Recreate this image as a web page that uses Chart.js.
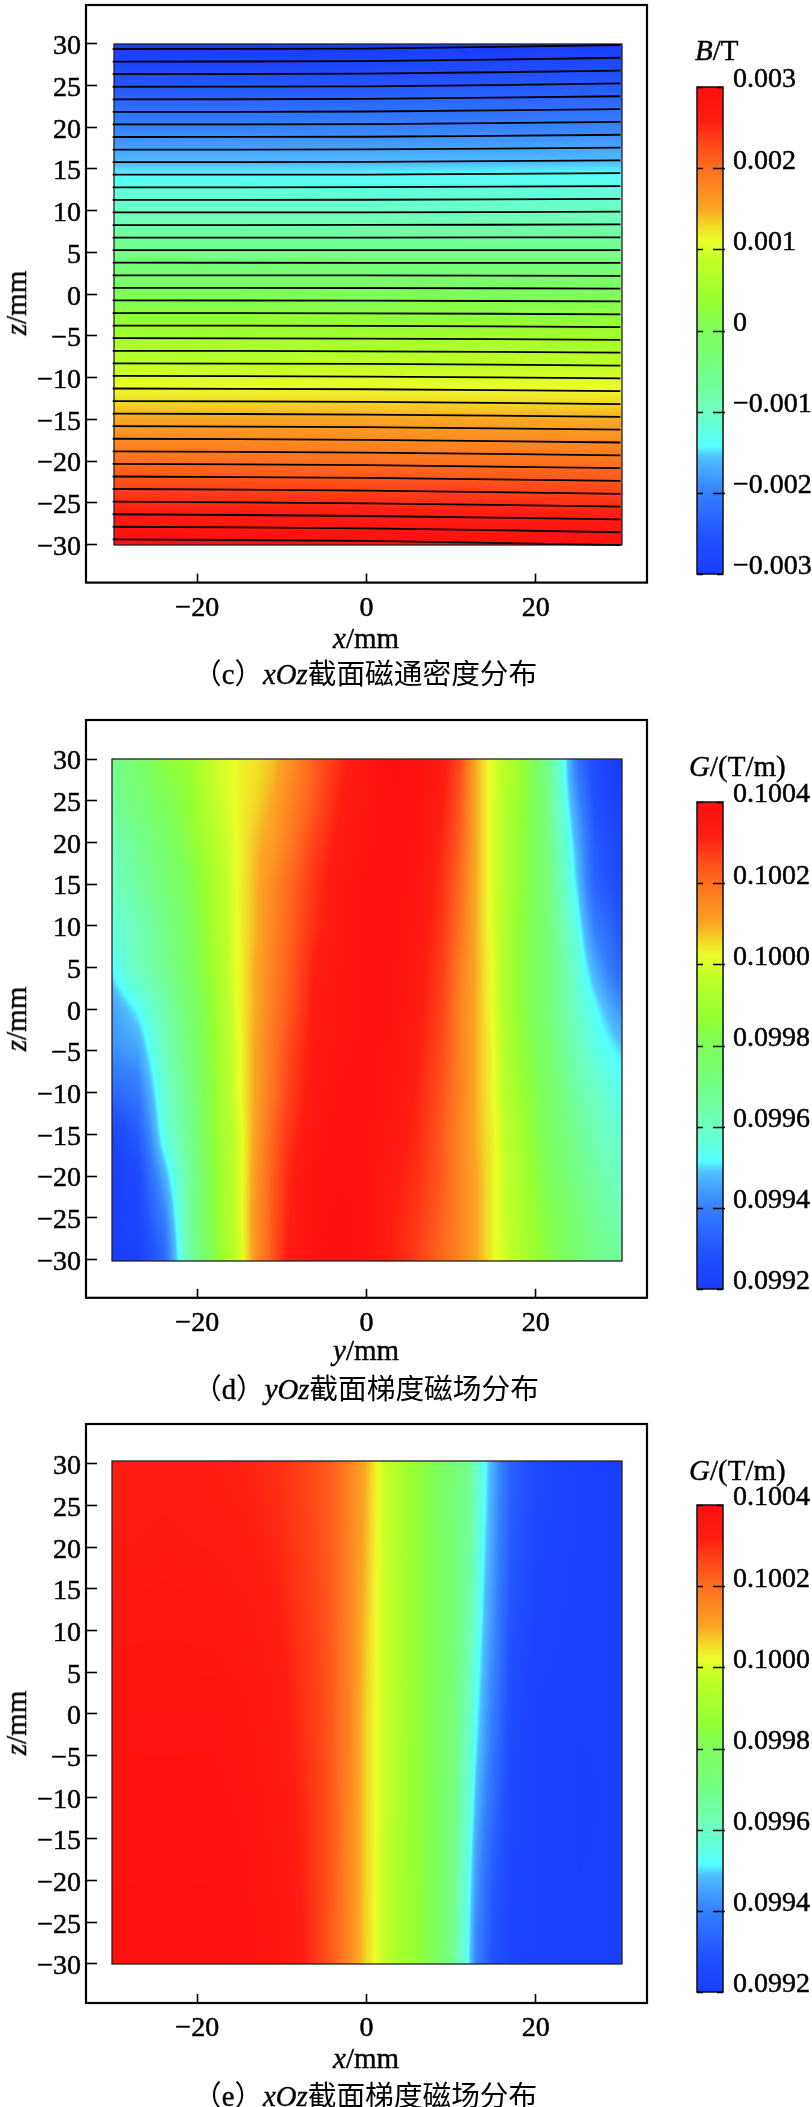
<!DOCTYPE html>
<html><head><meta charset="utf-8">
<script src="https://cdn.jsdelivr.net/npm/chart.js@4"></script>
<style>
html,body{margin:0;padding:0;background:#fff;}
body{position:relative;width:812px;height:2107px;overflow:hidden;}
canvas{position:absolute;display:block;}
.t{position:absolute;white-space:nowrap;color:#000;font-family:"Liberation Serif",serif;line-height:40px;height:40px;-webkit-text-stroke:0.4px #000;}
.t i{font-style:italic;}
.cjk{font-family:"Noto Sans CJK SC",sans-serif;-webkit-text-stroke:0;}
</style></head><body>
<script>
// ---------- axis ticks ----------
const xTicks=[-20,0,20];
const zTicks=[30,25,20,15,10,5,0,-5,-10,-15,-20,-25,-30];
const bBarTicks=[0.003,0.002,0.001,0,-0.001,-0.002,-0.003];
const gBarTicks=[0.1004,0.1002,0.1,0.0998,0.0996,0.0994,0.0992];
const bBarLabels=['0.003','0.002','0.001','0','\u22120.001','\u22120.002','\u22120.003'];
const gBarLabels=['0.1004','0.1002','0.1000','0.0998','0.0996','0.0994','0.0992'];
// ---------- colour map: position, r, g, b ----------
const cmapPos=[0,0.08,0.17,0.24,0.262,0.29,0.34,0.41,0.50,0.56,0.64,0.683,0.72,0.75,0.835,0.89,0.93,1];
const cmapR=[25,35,55,80,85,95,110,115,125,150,190,235,243,250,255,255,255,255];
const cmapG=[60,85,130,190,255,255,255,255,255,255,255,255,210,165,110,65,30,15];
const cmapB=[255,255,255,255,255,225,190,140,90,50,40,40,38,35,30,25,18,15];
// ---------- panel (c): flux density, mT ----------
const cCols=[-30,0,30];
const cRows=[30,25,20,15,10,5,0,-5,-10,-15,-20,-25,-30];
const cLeft=[-3.00,-2.50,-2.00,-1.50,-1.00,-0.50,0,0.50,1.00,1.50,2.00,2.50,3.00];
const cMid=[-3.00,-2.50,-2.00,-1.50,-1.00,-0.50,0,0.50,1.00,1.50,1.99,2.48,2.97];
const cRight=[-2.95,-2.46,-1.97,-1.48,-0.99,-0.50,0,0.49,0.99,1.48,1.97,2.45,2.94];
// contour lines: z of each line at x=-30, 0, 30
const lineX=[-30,0,30];
const lineLeft=[29.37,27.86,26.36,24.85,23.34,21.84,20.33,18.83,17.32,15.81,14.31,12.80,11.30,9.79,8.28,6.78,5.27,3.77,2.26,0.75,-0.75,-2.26,-3.76,-5.27,-6.78,-8.28,-9.79,-11.30,-12.80,-14.31,-15.81,-17.32,-18.82,-20.33,-21.84,-23.34,-24.85,-26.36,-27.86,-29.37];
const lineMid=[29.42,27.92,26.42,24.90,23.39,21.88,20.37,18.86,17.35,15.84,14.33,12.82,11.31,9.80,8.29,6.78,5.27,3.76,2.25,0.74,-0.77,-2.29,-3.80,-5.32,-6.84,-8.35,-9.87,-11.39,-12.90,-14.42,-15.93,-17.45,-18.97,-20.48,-22.01,-23.53,-25.05,-26.57,-28.05,-29.56];
const lineRight=[29.85,28.32,26.78,25.24,23.71,22.17,20.63,19.10,17.56,16.03,14.49,12.95,11.42,9.88,8.35,6.81,5.27,3.74,2.20,0.67,-0.87,-2.41,-3.94,-5.48,-7.01,-8.55,-10.09,-11.62,-13.16,-14.69,-16.23,-17.77,-19.30,-20.84,-22.37,-23.91,-25.45,-26.98,-28.52,-30.05];
// ---------- panel (d): gradient field, 1e-4 T/m ----------
const dCols=[-30,-27,-24,-21,-18,-15,-13,-11,-9,-6,-3,0,3,6,9,11,13,15,18,21,23,25,27,30];
const dRows=[30,25,20,15,10,5,0,-5,-10,-15,-20,-25,-30];
const dZ30=[997.0,997.6,998.4,998.8,999.8,1000.3,1000.5,1000.8,1001.4,1002.3,1003.0,1003.6,1004.0,1003.8,1003.3,1002.6,1000.9,1000.0,999.0,997.3,995.6,993.7,992.6,992.0];
const dZ25=[996.7,997.3,998.0,998.6,999.7,1000.3,1000.6,1001.0,1001.6,1002.4,1003.2,1003.6,1003.9,1003.8,1003.2,1002.4,1000.9,1000.0,998.8,997.4,995.7,994.2,992.8,992.1];
const dZ20=[996.3,996.9,997.6,998.4,999.4,1000.3,1000.8,1001.2,1001.8,1002.7,1003.3,1003.7,1003.9,1003.7,1003.0,1002.3,1000.9,1000.0,998.7,997.5,996.0,994.6,993.1,992.4];
const dZ15=[996.0,996.6,997.3,998.1,999.2,1000.3,1000.9,1001.5,1002.1,1002.9,1003.5,1003.8,1003.9,1003.6,1002.9,1002.1,1000.9,1000.0,998.7,997.6,996.2,994.9,993.3,992.6];
const dZ10=[995.6,996.2,997.0,997.9,999.1,1000.3,1000.9,1001.6,1002.2,1003.0,1003.5,1003.8,1003.9,1003.5,1002.8,1002.0,1000.9,1000.0,998.6,997.6,996.4,995.3,993.9,993.0];
const dZ5=[995.2,996.1,996.8,997.8,999.0,1000.3,1001.0,1001.7,1002.3,1003.2,1003.6,1003.8,1003.8,1003.4,1002.7,1001.8,1000.9,1000.1,998.6,997.6,996.6,995.6,994.6,993.4];
const dZ0=[994.5,995.2,996.3,997.5,998.8,1000.3,1001.0,1001.8,1002.4,1003.3,1003.6,1003.8,1003.8,1003.3,1002.6,1001.7,1000.9,1000.1,998.6,997.6,996.7,995.8,995.2,994.3];
const dZm5=[994.2,994.5,996.0,997.3,998.7,1000.2,1001.1,1001.9,1002.6,1003.4,1003.7,1003.8,1003.7,1003.2,1002.5,1001.7,1000.9,1000.2,998.7,997.8,996.9,996.1,995.5,995.0];
const dZm10=[993.4,993.8,995.7,997.0,998.6,1000.2,1001.1,1002.0,1002.7,1003.5,1003.8,1003.8,1003.6,1003.1,1002.4,1001.7,1000.9,1000.2,998.9,997.9,997.2,996.4,996.0,995.3];
const dZm15=[992.4,993.1,995.4,996.8,998.6,1000.0,1001.2,1002.2,1002.9,1003.6,1003.9,1003.8,1003.5,1003.0,1002.3,1001.6,1000.9,1000.3,999.1,998.0,997.4,996.8,996.2,995.7];
const dZm20=[992.1,992.6,994.6,996.6,998.5,1000.0,1001.3,1002.3,1003.1,1003.8,1003.9,1003.8,1003.3,1002.9,1002.3,1001.6,1001.0,1000.3,999.2,998.2,997.6,997.0,996.6,996.0];
const dZm25=[992.1,992.4,993.9,996.5,998.5,1000.0,1001.4,1002.4,1003.2,1003.8,1004.0,1003.8,1003.2,1002.8,1002.2,1001.6,1001.0,1000.3,999.3,998.4,997.9,997.3,996.8,996.3];
const dZm30=[992.0,992.2,993.4,996.4,998.3,999.9,1001.4,1002.4,1003.3,1003.9,1004.0,1003.8,1003.2,1002.7,1002.1,1001.6,1001.0,1000.3,999.4,998.5,998.0,997.5,997.0,996.6];
// ---------- panel (e): gradient field, 1e-4 T/m ----------
const eCols=[-30,-24,-18,-14,-10,-8,-6,-4,-2,0,2,4,6,8,10,12,13,14,15,17,20,25,30];
const eRows=[30,0,-30];
const eZ30=[1003.2,1003.3,1003.2,1003.1,1002.9,1002.7,1002.5,1002.2,1001.6,1000.9,999.9,999.2,998.6,998.1,997.5,996.9,996.0,995.2,994.6,993.3,992.6,992.2,992.1];
const eZ0=[1003.7,1003.7,1003.7,1003.6,1003.3,1003.0,1002.7,1002.3,1001.6,1000.6,999.9,999.2,998.6,998.1,997.5,996.1,995.2,994.5,993.9,992.7,992.2,992.1,992.1];
const eZm30=[1003.9,1003.9,1003.9,1003.8,1003.6,1003.3,1002.8,1002.3,1001.5,1000.6,999.8,999.1,998.6,998.0,997.0,995.2,994.0,993.4,992.8,992.4,992.2,992.1,992.1];

const SERIF='"Liberation Serif"';
function colorAt(t){
  t=Math.max(0,Math.min(1,t));
  let i=0; while(i<cmapPos.length-2&&t>cmapPos[i+1])i++;
  const f=(t-cmapPos[i])/(cmapPos[i+1]-cmapPos[i]);
  const m=a=>Math.round(a[i]+(a[i+1]-a[i])*f);
  return [m(cmapR),m(cmapG),m(cmapB)];
}
function bracket(arr,v,desc){
  let i=0;const n=arr.length;
  if(desc){while(i<n-2&&v<arr[i+1])i++;}else{while(i<n-2&&v>arr[i+1])i++;}
  let f=(v-arr[i])/(arr[i+1]-arr[i]);f=Math.max(0,Math.min(1,f));
  return [i,f];
}
const heatPlugin={id:'heat',beforeDatasetsDraw(chart,args,o){
  const xs=chart.scales.x,ys=chart.scales.y,ctx=chart.ctx;
  const x0=Math.round(xs.getPixelForValue(o.xExtent[0])),x1=Math.round(xs.getPixelForValue(o.xExtent[1]));
  const y0=Math.round(ys.getPixelForValue(o.zExtent[1])),y1=Math.round(ys.getPixelForValue(o.zExtent[0]));
  const w=x1-x0,h=y1-y0,img=ctx.createImageData(w,h),R=o.rows.length;
  for(let py=0;py<h;py++){
    const [r,f]=bracket(o.rows,ys.getValueForPixel(y0+py+0.5),true);
    const r0=Math.max(r-1,0),r3=Math.min(r+2,R-1);
    const f2=f*f,f3=f2*f;
    const w0=-0.5*f3+f2-0.5*f,w1=1.5*f3-2.5*f2+1,w2=-1.5*f3+2*f2+0.5*f,w3=0.5*f3-0.5*f2;
    for(let px=0;px<w;px++){
      const [c,fc]=bracket(o.cols,xs.getValueForPixel(x0+px+0.5),false);
      const at=q=>o.grid[q][c]*(1-fc)+o.grid[q][c+1]*fc;
      const v=at(r0)*w0+at(r)*w1+at(r+1)*w2+at(r3)*w3;
      const col=colorAt((v-o.vMin)/(o.vMax-o.vMin));
      const k=(py*w+px)*4;
      img.data[k]=col[0];img.data[k+1]=col[1];img.data[k+2]=col[2];img.data[k+3]=255;
    }
  }
  ctx.putImageData(img,x0,y0);
  ctx.save();ctx.strokeStyle='#222';ctx.lineWidth=1.3;ctx.strokeRect(x0,y0,w,h);ctx.restore();
}};
const framePlugin={id:'frame',afterDraw(chart){
  const a=chart.chartArea,ctx=chart.ctx;
  ctx.save();ctx.strokeStyle='#000';ctx.lineWidth=2.2;
  ctx.strokeRect(a.left,a.top,a.right-a.left,a.bottom-a.top);ctx.restore();
}};
function clearPad(s){s.paddingTop=0;s.paddingBottom=0;s.paddingLeft=0;s.paddingRight=0;}
const tickFont={family:SERIF,size:28};
function mainChart(id,top,height,frameTop,frameBottom,zMax,zMin,heat,datasets){
  const cv=document.createElement('canvas');cv.id=id;
  cv.style.left='0px';cv.style.top=top+'px';cv.style.width='690px';cv.style.height=height+'px';
  cv.width=690;cv.height=height;document.body.appendChild(cv);
  const below=top+height-frameBottom;
  return new Chart(cv,{type:'scatter',data:{datasets},plugins:[heatPlugin,framePlugin],options:{
    responsive:false,animation:false,devicePixelRatio:1,
    layout:{padding:{left:0,right:43,top:frameTop-top,bottom:0}},
    plugins:{legend:{display:false},tooltip:{enabled:false},title:{display:false},heat},
    elements:{point:{radius:0},line:{borderColor:'#000',borderWidth:1.8,tension:0.3}},
    scales:{
      x:{type:'linear',min:-33.15,max:33.15,position:'bottom',
        afterBuildTicks:s=>{s.ticks=xTicks.map(v=>({value:v}));},
        afterFit:s=>{s.height=below;clearPad(s);},
        grid:{drawOnChartArea:false,tickLength:-9,tickColor:'#000',tickWidth:1.6},border:{display:false},
        ticks:{autoSkip:false,maxRotation:0,padding:18,color:'#000',textStrokeColor:'#000',textStrokeWidth:0.5,font:tickFont,
          callback:v=>String(v).replace('-','\u2212')}},
      y:{type:'linear',min:zMin,max:zMax,position:'left',
        afterBuildTicks:s=>{s.ticks=zTicks.map(v=>({value:v}));},
        afterFit:s=>{s.width=86;clearPad(s);},
        grid:{drawOnChartArea:false,tickLength:-11,tickColor:'#000',tickWidth:1.6},border:{display:false},
        ticks:{autoSkip:false,padding:16,labelOffset:3,color:'#000',textStrokeColor:'#000',textStrokeWidth:0.5,font:tickFont,
          callback:v=>String(v).replace('-','\u2212')}}
    }}});
}
const barPlugin={id:'bar',beforeDatasetsDraw(chart,args,o){
  const a=chart.chartArea,ctx=chart.ctx,ys=chart.scales.y;
  for(let py=Math.round(a.top);py<Math.round(a.bottom);py++){
    const c=colorAt((ys.getValueForPixel(py+0.5)-o.vMin)/(o.vMax-o.vMin));
    ctx.fillStyle='rgb('+c.join(',')+')';ctx.fillRect(a.left,py,a.right-a.left,1);
  }
},afterDraw(chart){
  const a=chart.chartArea,ctx=chart.ctx,ys=chart.scales.y;
  ctx.save();ctx.strokeStyle='#111';ctx.lineWidth=1.5;
  ctx.strokeRect(a.left,a.top,a.right-a.left,a.bottom-a.top);
  ctx.lineWidth=1.7;ctx.strokeStyle='#000';
  ys.ticks.forEach((t,i)=>{
    const p=Math.round(ys.getPixelForTick(i))+0.5;
    const end=(i===0||i===ys.ticks.length-1);
    ctx.beginPath();ctx.moveTo(a.left,p);ctx.lineTo(a.left+6,p);
    ctx.moveTo(a.right-(end?6:10),p);ctx.lineTo(a.right+(end?0:2),p);ctx.stroke();
  });
  ctx.restore();
}};
function barChart(id,barTop,barBottom,vMin,vMax,tickVals,labels){
  const cv=document.createElement('canvas');cv.id=id;
  const top=barTop-30,height=barBottom-barTop+60;
  cv.style.left='680px';cv.style.top=top+'px';cv.style.width='132px';cv.style.height=height+'px';
  cv.width=132;cv.height=height;document.body.appendChild(cv);
  return new Chart(cv,{type:'scatter',data:{datasets:[{data:tickVals.map(v=>({x:0,y:v})),pointRadius:0,showLine:false}]},plugins:[barPlugin],options:{
    responsive:false,animation:false,devicePixelRatio:1,
    layout:{padding:{left:17,right:0,top:30,bottom:30}},
    plugins:{legend:{display:false},tooltip:{enabled:false},bar:{vMin,vMax}},
    scales:{
      x:{type:'linear',display:false,min:0,max:1},
      y:{type:'linear',position:'right',min:vMin,max:vMax,
        afterBuildTicks:s=>{s.ticks=tickVals.map(v=>({value:v}));},
        afterFit:s=>{s.width=89;clearPad(s);},
        grid:{display:false,drawTicks:false},border:{display:false},
        ticks:{autoSkip:false,padding:10,labelOffset:-7,color:'#000',textStrokeColor:'#000',textStrokeWidth:0.5,font:tickFont,
          callback:(v,i)=>labels[i]}}
    }}});
}
function text(html,left,cy,size,cls){
  const d=document.createElement('div');d.className='t'+(cls?' '+cls:'');
  d.innerHTML=html;d.style.left=left+'px';d.style.top=(cy-20)+'px';d.style.fontSize=size+'px';
  document.body.appendChild(d);return d;
}
function yLabel(cy){
  const d=text('<i>z</i>/mm',0,cy,29);
  d.style.left='15.5px';d.style.transform='translate(-50%,0) rotate(-90deg)';
}
function gridCells(cols,rows,grid){
  const out=[];rows.forEach((z,r)=>cols.forEach((x,c)=>out.push({x,y:z,v:grid[r][c]})));return out;
}
// panel (c)
const cGrid=cRows.map((z,i)=>[cLeft[i],cMid[i],cRight[i]]);
const contourSets=lineLeft.map((l,i)=>({type:'scatter',showLine:true,pointRadius:0,
  data:[{x:lineX[0],y:l},{x:lineX[1],y:lineMid[i]},{x:lineX[2],y:lineRight[i]}]}));
mainChart('c',0,640,5,582.6,34.64,-34.55,
  {cols:cCols,rows:cRows,grid:cGrid,vMin:-3,vMax:3,xExtent:[-29.9,30.15],zExtent:[-30,30]},contourSets);
// panel (d)
const dGrid=[dZ30,dZ25,dZ20,dZ15,dZ10,dZ5,dZ0,dZm5,dZm10,dZm15,dZm20,dZm25,dZm30];
mainChart('d',700,660,720,1297.8,34.68,-34.6,
  {cols:dCols,rows:dRows,grid:dGrid,vMin:992,vMax:1004,xExtent:[-30.1,30.15],zExtent:[-30.2,30.05]},
  [{data:gridCells(dCols,dRows,dGrid),pointRadius:0,showLine:false}]);
// panel (e)
const eGrid=[eZ30,eZ0,eZm30];
mainChart('e',1405,660,1424,2003,34.8,-34.7,
  {cols:eCols,rows:eRows,grid:eGrid,vMin:992,vMax:1004,xExtent:[-30.1,30.15],zExtent:[-30,30.36]},
  [{data:gridCells(eCols,eRows,eGrid),pointRadius:0,showLine:false}]);
// colour bars
barChart('cb',87,574,-0.003,0.003,bBarTicks,bBarLabels);
barChart('db',802,1289,0.0992,0.1004,gBarTicks,gBarLabels);
barChart('eb',1505,1992,0.0992,0.1004,gBarTicks,gBarLabels);
// texts
text('<i>B</i>/T',695,50,29);
text('<i>G</i>/(T/m)',689,766,29);
text('<i>G</i>/(T/m)',689,1470,29);
text('<i>x</i>/mm',333,638,29);
text('<i>y</i>/mm',333,1349.5,29);
text('<i>x</i>/mm',333,2058,29);
yLabel(303);yLabel(1018.5);yLabel(1723);
text('<span class="cjk">（</span>c<span class="cjk">）</span><i>xOz</i><span class="cjk">截面磁通密度分布</span>',193,672,28.7);
text('<span class="cjk">（</span>d<span class="cjk">）</span><i>yOz</i><span class="cjk">截面梯度磁场分布</span>',193,1387,28.7);
text('<span class="cjk">（</span>e<span class="cjk">）</span><i>xOz</i><span class="cjk">截面梯度磁场分布</span>',193,2094,28.7);
</script>
</body></html>
